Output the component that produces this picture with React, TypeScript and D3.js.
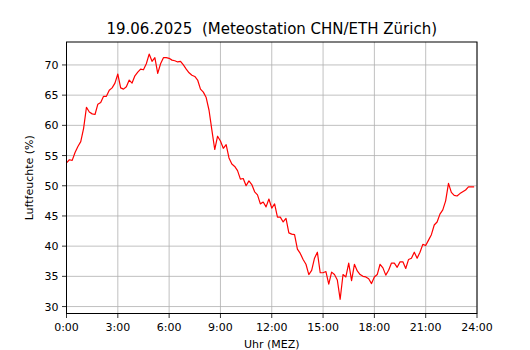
import React from "react";
import * as d3 from "d3";

const TITLE = "19.06.2025  (Meteostation CHN/ETH Zürich)";
const X_LABEL = "Uhr (MEZ)";
const Y_LABEL = "Luftfeuchte (%)";

// humidity every 10 minutes, 0:00 .. 23:50
const humidity: number[] = [
  53.8, 54.3, 54.2, 55.5, 56.5, 57.3, 59.5, 63.0, 62.2, 61.9, 61.8, 63.5,
  63.8, 64.8, 64.8, 65.8, 66.2, 67.0, 68.5, 66.2, 66.0, 66.4, 67.5, 67.0,
  68.2, 68.8, 69.3, 69.2, 70.2, 71.8, 70.6, 71.2, 68.6, 70.2, 71.2, 71.2,
  71.1, 70.8, 70.7, 70.5, 70.6, 70.0, 69.3, 68.7, 68.3, 68.1, 67.5, 66.0,
  65.5, 64.6, 62.5, 59.2, 56.0, 58.2, 57.4, 56.2, 56.8, 54.6, 53.6, 53.2,
  52.5, 51.1, 51.2, 50.0, 50.8, 50.2, 49.0, 48.5, 47.0, 47.3, 46.5, 47.8,
  46.3, 47.0, 44.8, 44.8, 44.0, 44.6, 42.2, 42.0, 41.9, 39.5, 38.8, 37.8,
  37.0, 35.3, 36.0, 38.0, 39.0, 35.6, 35.6, 35.8, 33.7, 35.7, 35.3, 34.4,
  31.2, 35.3, 34.9, 37.2, 34.3, 37.0, 35.9, 35.3, 35.0, 34.9, 34.6, 33.8,
  34.9, 35.3, 37.0, 36.4, 35.2, 36.0, 37.2, 37.2, 36.5, 37.4, 37.4, 36.3,
  37.8, 38.0, 39.0, 38.0, 39.0, 40.3, 40.1, 41.0, 41.9, 43.5, 44.0, 45.3,
  46.0, 47.5, 50.4, 48.9, 48.4, 48.3, 48.7, 49.0, 49.3, 49.8, 49.8, 49.8,
];
const hours: number[] = humidity.map((_, i) => i / 6);

const xTicks: number[] = [0, 3, 6, 9, 12, 15, 18, 21, 24];
const xTickLabels: string[] = ["0:00", "3:00", "6:00", "9:00", "12:00", "15:00", "18:00", "21:00", "24:00"];
const yTicks: number[] = [30, 35, 40, 45, 50, 55, 60, 65, 70];

const W = 530, H = 350;
const L = 66.5, R = 477, T = 42, B = 313.5;
const FONT = "DejaVu Sans, sans-serif";

export default function App() {
  const x = d3.scaleLinear().domain([0, 24]).range([L, R]);
  const y = d3.scaleLinear().domain([28.85, 73.8]).range([B, T]);
  const line = d3.line<number>().x((_, i) => x(hours[i])).y((d) => y(d));
  return (
    <svg width={W} height={H} style={{ position: "absolute", left: 0, top: 0, background: "#fff" }}>
      <rect x={0} y={0} width={W} height={H} fill="#fff" />
      {xTicks.map((t) => (
        <line key={"gx" + t} x1={x(t)} x2={x(t)} y1={T} y2={B} stroke="#b0b0b0" strokeWidth={0.8} />
      ))}
      {yTicks.map((t) => (
        <line key={"gy" + t} x1={L} x2={R} y1={y(t)} y2={y(t)} stroke="#b0b0b0" strokeWidth={0.8} />
      ))}
      <path d={line(humidity) || ""} fill="none" stroke="#ff0000" strokeWidth={1.2} strokeLinejoin="round" />
      <rect x={L} y={T} width={R - L} height={B - T} fill="none" stroke="#000" strokeWidth={1} />
      {xTicks.map((t, i) => (
        <g key={"xt" + t}>
          <line x1={x(t)} x2={x(t)} y1={B} y2={B + 4.5} stroke="#000" strokeWidth={0.8} />
          <text x={x(t)} y={B + 17.5} fontSize={11} fontFamily={FONT} textAnchor="middle" fill="#000">
            {xTickLabels[i]}
          </text>
        </g>
      ))}
      {yTicks.map((t) => (
        <g key={"yt" + t}>
          <line x1={L - 4.5} x2={L} y1={y(t)} y2={y(t)} stroke="#000" strokeWidth={0.8} />
          <text x={L - 8} y={y(t) + 4} fontSize={11} fontFamily={FONT} textAnchor="end" fill="#000">
            {t}
          </text>
        </g>
      ))}
      <text
        x={(L + R) / 2}
        y={34}
        fontSize={15}
        fontFamily={FONT}
        textAnchor="middle"
        fill="#000"
        style={{ whiteSpace: "pre" }}
        xmlSpace="preserve"
      >
        {TITLE}
      </text>
      <text x={(L + R) / 2} y={348} fontSize={11} fontFamily={FONT} textAnchor="middle" fill="#000">
        {X_LABEL}
      </text>
      <text
        transform={`translate(32.5,${(T + B) / 2}) rotate(-90)`}
        fontSize={11}
        fontFamily={FONT}
        textAnchor="middle"
        fill="#000"
      >
        {Y_LABEL}
      </text>
    </svg>
  );
}
